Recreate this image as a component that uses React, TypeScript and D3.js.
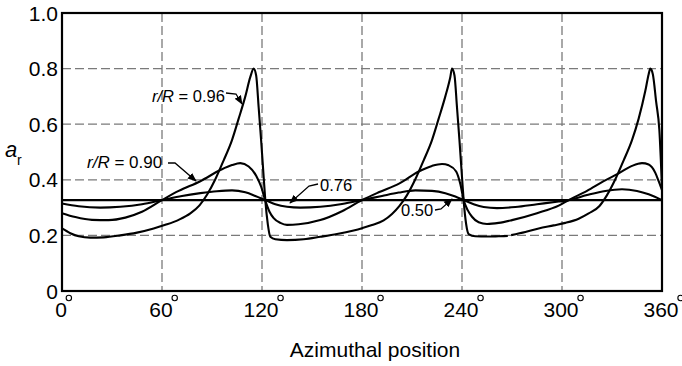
import React from "react";
import * as d3 from "d3";

// ---- data (azimuth in degrees, a_r value) ----
const xTicks = [0, 60, 120, 180, 240, 300, 360];
const xTickLabels = ["0", "60", "120", "180", "240", "300", "360"];
const yTicks = [0, 0.2, 0.4, 0.6, 0.8, 1.0];
const yTickLabels = ["0", "0.2", "0.4", "0.6", "0.8", "1.0"];

const deg096 = [0, 5, 10, 17, 25, 35, 45, 55, 62, 70, 77, 82.5, 87, 92, 97, 102, 106, 110, 113, 115, 116.5, 118, 119.5, 121, 122, 123.5, 125, 128, 135, 145, 155, 165, 175, 180, 186, 193, 198, 202.5, 207, 212, 217, 222, 226, 230, 233, 234, 235.5, 237, 238.5, 240, 241, 242.5, 244, 248, 255, 262, 267.5, 268.5, 269.5, 278, 286, 295, 302, 310, 316, 322.5, 327, 332, 337, 342, 346, 350, 352, 353, 354.5, 356.5, 358.4, 360];
const val096: (number | null)[] = [0.225, 0.208, 0.197, 0.192, 0.193, 0.2, 0.21, 0.225, 0.238, 0.256, 0.279, 0.308, 0.346, 0.402, 0.47, 0.543, 0.62, 0.7, 0.77, 0.8, 0.775, 0.66, 0.54, 0.41, 0.325, 0.24, 0.195, 0.186, 0.183, 0.186, 0.195, 0.205, 0.218, 0.226, 0.237, 0.254, 0.277, 0.306, 0.345, 0.402, 0.47, 0.543, 0.62, 0.7, 0.77, 0.8, 0.775, 0.66, 0.54, 0.41, 0.325, 0.24, 0.205, 0.197, 0.196, 0.197, 0.198, null, 0.201, 0.212, 0.225, 0.236, 0.245, 0.26, 0.279, 0.306, 0.345, 0.402, 0.47, 0.543, 0.62, 0.72, 0.78, 0.8, 0.78, 0.68, 0.58, 0.37];

const deg090 = [0, 8, 18, 28, 38, 48, 60, 70, 83, 95, 102, 107, 112, 116.5, 119.5, 122, 124.5, 127, 131, 135, 142, 155, 168, 180, 190, 202.5, 214, 222, 228, 232, 236.5, 239, 241, 243.5, 246, 250, 255, 262, 270, 285, 298, 304, 315, 325, 334, 342, 348, 352, 356, 358, 360];
const val090 = [0.28, 0.266, 0.256, 0.255, 0.264, 0.285, 0.327, 0.36, 0.395, 0.435, 0.453, 0.46, 0.448, 0.415, 0.375, 0.325, 0.285, 0.262, 0.245, 0.238, 0.24, 0.255, 0.287, 0.327, 0.355, 0.387, 0.43, 0.45, 0.457, 0.452, 0.43, 0.385, 0.327, 0.29, 0.267, 0.247, 0.241, 0.245, 0.255, 0.28, 0.307, 0.327, 0.36, 0.395, 0.423, 0.45, 0.46, 0.455, 0.425, 0.395, 0.363];

const deg076 = [0, 10, 23, 35, 48, 60, 72, 83, 93, 102, 110, 116, 122, 128, 135, 143, 155, 168, 180, 192, 202, 212, 222, 230, 236, 241, 247, 253, 261, 272, 285, 298, 304, 315, 326, 336, 345, 352, 360];
const val076 = [0.315, 0.305, 0.3, 0.303, 0.312, 0.327, 0.342, 0.352, 0.359, 0.362, 0.355, 0.342, 0.327, 0.312, 0.303, 0.3, 0.303, 0.313, 0.327, 0.342, 0.354, 0.362, 0.36, 0.352, 0.34, 0.327, 0.312, 0.302, 0.298, 0.302, 0.312, 0.322, 0.327, 0.345, 0.36, 0.366, 0.36, 0.348, 0.327];

const deg050 = [0, 60, 120, 180, 240, 300, 360];
const val050 = [0.327, 0.327, 0.327, 0.327, 0.327, 0.327, 0.327];

const seriesNames = ["0.96", "0.90", "0.76", "0.50"];

// ---- layout ----
const W = 682;
const H = 366;
const x = d3.scaleLinear().domain([0, 360]).range([62, 662]);
const y = d3.scaleLinear().domain([0, 1]).range([291, 13]);

type P = [number, number | null];
const zip = (d: number[], v: (number | null)[]): P[] => d.map((dd, i) => [dd, v[i]]);

const series: P[][] = [zip(deg096, val096), zip(deg090, val090), zip(deg076, val076), zip(deg050, val050)];

const line = d3
  .line<P>()
  .defined((p) => p[1] !== null)
  .x((p) => x(p[0]))
  .y((p) => y(p[1] as number))
  .curve(d3.curveMonotoneX);

const FONT = "'Liberation Sans', Arial, Helvetica, sans-serif";

export default function App() {
  const gridColor = "#7a7a7a";
  return (
    <svg
      width={W}
      height={H}
      style={{ position: "fixed", left: 0, top: 0, background: "#fff" }}
      fontFamily={FONT}
    >
      <defs>
        <marker id="arr" viewBox="0 0 10 10" refX="9" refY="5" markerWidth="7" markerHeight="7" orient="auto">
          <path d="M0,1 L10,5 L0,9 z" fill="#000" />
        </marker>
      </defs>
      <rect x={0} y={0} width={W} height={H} fill="#fff" />
      {/* grid */}
      {xTicks.slice(1, -1).map((t) => (
        <line key={"gx" + t} x1={x(t)} x2={x(t)} y1={y(1)} y2={y(0)} stroke={gridColor} strokeWidth={1.3} strokeDasharray="9,4" />
      ))}
      {yTicks.slice(1, -1).map((t) => (
        <line key={"gy" + t} x1={x(0)} x2={x(360)} y1={y(t)} y2={y(t)} stroke={gridColor} strokeWidth={1.3} strokeDasharray="9,4" />
      ))}
      {/* curves */}
      {series.map((s, i) => (
        <path key={seriesNames[i]} d={line(s) || ""} fill="none" stroke="#000" strokeWidth={2.1} strokeLinejoin="round" />
      ))}
      {/* frame */}
      <rect x={x(0)} y={y(1)} width={x(360) - x(0)} height={y(0) - y(1)} fill="none" stroke="#000" strokeWidth={2.2} />
      {/* y tick labels */}
      {yTicks.map((t, i) => (
        <text key={"yl" + t} x={58} y={y(t) + 7.5} textAnchor="end" fontSize={21} fill="#000">
          {yTickLabels[i]}
        </text>
      ))}
      {/* x tick labels */}
      {xTicks.map((t, i) => {
        const w = xTickLabels[i].length * 11.7;
        return (
          <g key={"xl" + t}>
            <text x={x(t) - 1} y={317} textAnchor="middle" fontSize={21} fill="#000">
              {xTickLabels[i]}
            </text>
            <circle cx={x(t) - 1 + w / 2 + 2} cy={298} r={2.7} fill="none" stroke="#000" strokeWidth={1.1} />
          </g>
        );
      })}
      {/* axis titles */}
      <text x={375} y={357} textAnchor="middle" fontSize={21} fill="#000">
        Azimuthal position
      </text>
      <text x={5} y={157} fontSize={22} fontStyle="italic" fill="#000">
        a
      </text>
      <text x={17} y={165} fontSize={14} fill="#000">
        r
      </text>
      {/* annotations */}
      <text x={152} y={102} fontSize={16.5} fill="#000">
        <tspan fontStyle="italic">r/R</tspan> = 0.96
      </text>
      <path d="M226,93 L236,94 L242,104" fill="none" stroke="#000" strokeWidth={1.3} markerEnd="url(#arr)" />
      <text x={87} y={168} fontSize={17} fill="#000">
        <tspan fontStyle="italic">r/R</tspan> = 0.90
      </text>
      <path d="M168,163 L175,163 L196,181" fill="none" stroke="#000" strokeWidth={1.3} markerEnd="url(#arr)" />
      <text x={320} y={190.5} fontSize={16.5} fill="#000">
        0.76
      </text>
      <path d="M318,184 L309,186 L290,203" fill="none" stroke="#000" strokeWidth={1.3} markerEnd="url(#arr)" />
      <text x={401} y={216} fontSize={16.5} fill="#000">
        0.50
      </text>
      <path d="M435,210 L441,209 L452,199" fill="none" stroke="#000" strokeWidth={1.3} markerEnd="url(#arr)" />
    </svg>
  );
}
